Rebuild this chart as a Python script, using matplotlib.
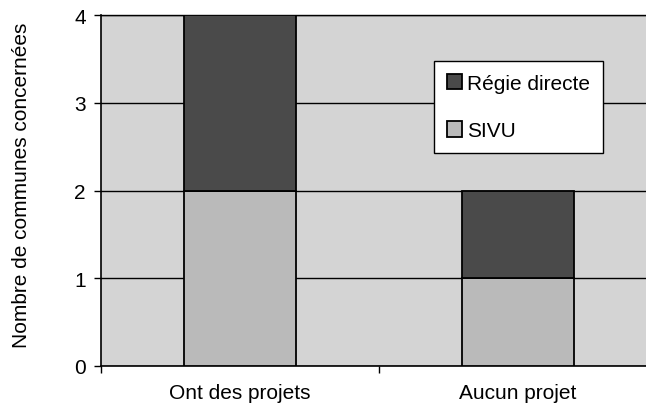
import numpy as np
import matplotlib
matplotlib.use("Agg")
from matplotlib import pyplot as plt

plt.rcParams['font.family'] = ['Liberation Sans', 'DejaVu Sans']

# Number of communes per group, stacked by management mode
categories = ['Ont des projets', 'Aucun projet']
sivu = [2, 1]
regie = [2, 1]
yticks = [0, 1, 2, 3, 4]

fig = plt.figure(figsize=(6.46, 4.10), dpi=100)
ax = fig.add_axes([101 / 646, 1 - 367 / 410, 556 / 646, 351 / 410])
ax.set_facecolor('#d4d4d4')

x = np.arange(len(categories)) + 0.5
ax.bar(x, sivu, width=0.4, color='#bababa', edgecolor='black', linewidth=1.3,
       label='SIVU', zorder=3)
ax.bar(x, regie, width=0.4, bottom=sivu, color='#4a4a4a', edgecolor='black',
       linewidth=1.3, label='Régie directe', zorder=3)

ax.set_xlim(0, len(categories))
ax.set_ylim(0, 4)
ax.set_yticks(yticks)
ax.yaxis.grid(True, color='black', linewidth=1.0, zorder=1)

# category boundaries carry the ticks, labels sit between them
ax.set_xticks(np.arange(len(categories) + 1))
ax.set_xticklabels([])
ax.set_xticks(x, minor=True)
ax.set_xticklabels(categories, minor=True)
ax.tick_params(axis='x', which='minor', length=0, pad=12, labelsize=15)
ax.tick_params(axis='x', which='major', length=5, direction='out', width=1)
ax.tick_params(axis='y', length=5, direction='out', width=1, labelsize=15, pad=6)

ax.spines['right'].set_visible(False)
ax.spines['top'].set_linewidth(1.0)
ax.spines['left'].set_linewidth(1.2)
ax.spines['bottom'].set_linewidth(1.2)

ax.set_ylabel('Nombre de communes concernées', fontsize=15)
ax.yaxis.set_label_coords(-0.126, 0.518)

handles, labels = ax.get_legend_handles_labels()
leg = ax.legend(handles[::-1], labels[::-1], loc='upper left',
                bbox_to_anchor=((434 - 101) / 556, (367 - 62) / 351),
                fontsize=15, frameon=True, fancybox=False, edgecolor='black',
                framealpha=1, handlelength=0.75, handleheight=0.75,
                handletextpad=0.25, labelspacing=1.38, borderpad=0.6,
                borderaxespad=0)
leg.get_frame().set_linewidth(1.0)
leg.set_zorder(5)

fig.savefig('out.png', dpi=100)
